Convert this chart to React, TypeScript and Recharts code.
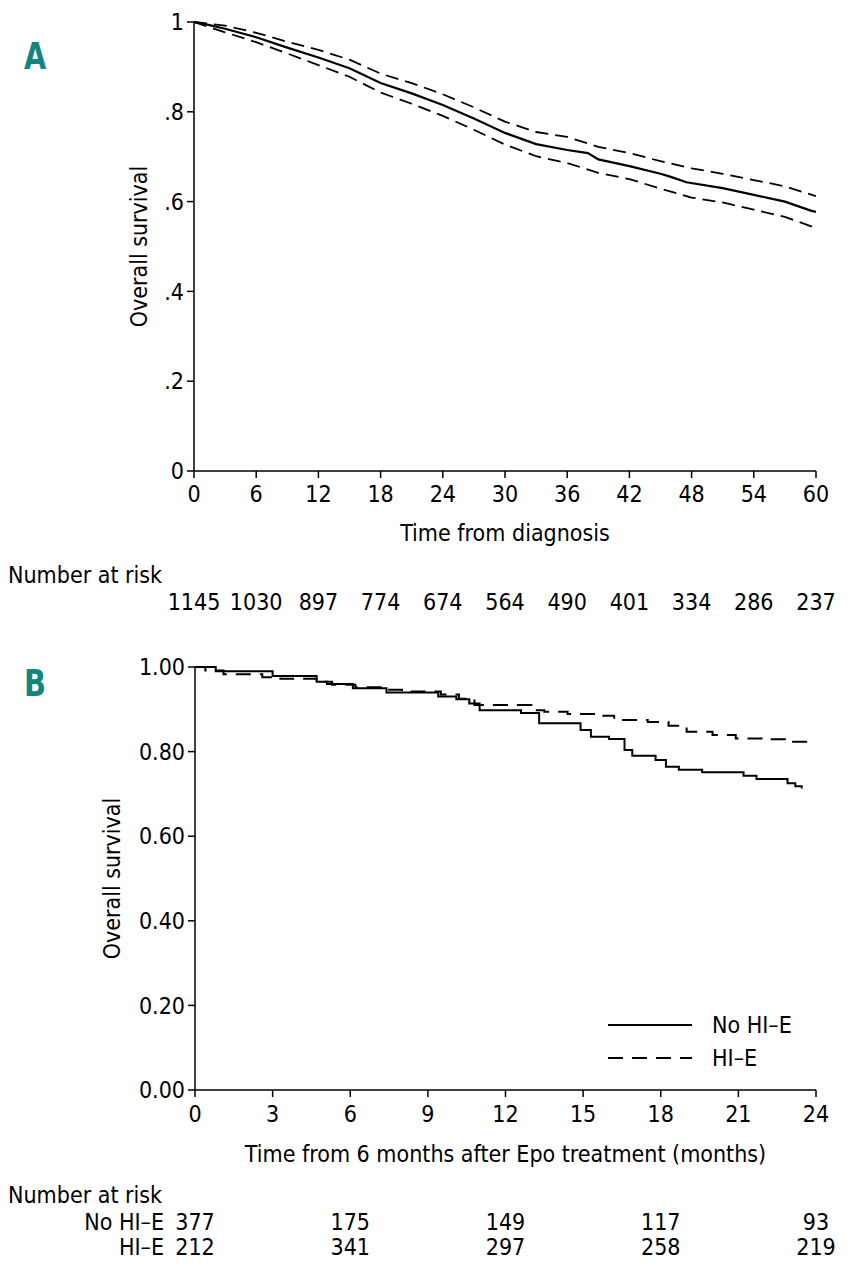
import React from 'react';
import { LineChart, Line, XAxis, YAxis } from 'recharts';

const FONT = '"Liberation Sans Narrow", "DejaVu Sans Condensed", "Arial Narrow", sans-serif';
const TEAL = '#14847f';
const FS = 23;

// Panel A: overall survival from diagnosis (months)
const monthsA = [0, 1.5, 3, 6, 9, 12, 15, 18, 21, 24, 27, 30, 33, 36, 38, 39, 42, 45, 46, 47.5, 51, 54, 57, 59.5, 60];
const survivalA = [1.0, 0.993, 0.985, 0.966, 0.943, 0.921, 0.897, 0.864, 0.841, 0.815, 0.785, 0.753, 0.728, 0.715, 0.708, 0.694, 0.679, 0.662, 0.655, 0.643, 0.63, 0.615, 0.6, 0.58, 0.577];
const ciMonthsA = [0, 3, 6, 9, 12, 15, 18, 21, 24, 27, 30, 33, 36, 39, 42, 45, 48, 51, 54, 57, 60];
const upperA = [1.0, 0.992, 0.976, 0.956, 0.938, 0.916, 0.885, 0.864, 0.839, 0.81, 0.778, 0.755, 0.744, 0.722, 0.708, 0.69, 0.674, 0.662, 0.648, 0.634, 0.612];
const lowerA = [1.0, 0.977, 0.955, 0.93, 0.904, 0.878, 0.843, 0.818, 0.791, 0.76, 0.727, 0.701, 0.686, 0.664, 0.65, 0.629, 0.609, 0.598, 0.582, 0.566, 0.541];
const xTicksA = [0, 6, 12, 18, 24, 30, 36, 42, 48, 54, 60];
const riskA = [1145, 1030, 897, 774, 674, 564, 490, 401, 334, 286, 237];

// Panel B: survival from 6 months after Epo treatment, by erythroid response
const monthsNoHIE = [0, 0.8, 3.0, 4.7, 5.1, 6.1, 7.4, 9.4, 10.1, 10.6, 11.0, 12.6, 13.3, 14.9, 15.3, 16.0, 16.6, 16.9, 17.8, 18.2, 18.7, 19.6, 21.2, 21.7, 22.9, 23.2, 23.45];
const survNoHIE = [1.0, 0.99, 0.979, 0.965, 0.96, 0.95, 0.94, 0.93, 0.924, 0.914, 0.898, 0.891, 0.867, 0.851, 0.835, 0.83, 0.804, 0.79, 0.78, 0.764, 0.757, 0.751, 0.743, 0.735, 0.725, 0.718, 0.713];
const monthsHIE = [0, 0.4, 1.1, 2.6, 3.3, 4.7, 5.3, 6.2, 7.4, 8.0, 9.5, 10.2, 10.8, 13.0, 13.5, 14.4, 15.5, 16.2, 17.5, 18.3, 19.0, 20.0, 20.9, 22.0, 22.8, 23.96];
const survHIE = [1.0, 0.992, 0.983, 0.976, 0.972, 0.965, 0.958, 0.952, 0.946, 0.942, 0.935, 0.925, 0.91, 0.898, 0.894, 0.889, 0.885, 0.875, 0.87, 0.861, 0.847, 0.839, 0.831, 0.829, 0.823, 0.823];
const xTicksB = [0, 3, 6, 9, 12, 15, 18, 21, 24];
const riskTimesB = [0, 6, 12, 18, 24];
const riskNoHIE = [377, 175, 149, 117, 93];
const riskHIE = [212, 341, 297, 258, 219];

const yTicks = [0, 0.2, 0.4, 0.6, 0.8, 1];

const toRows = (xs: number[], ys: number[]) => xs.map((t, i) => ({ t, s: ys[i] }));

const axisProps = { stroke: '#000', strokeWidth: 1.5 };

function TickA({ x, y, payload }: any) {
  const i = xTicksA.indexOf(payload.value);
  return (
    <g>
      <text x={x} y={y + 24} textAnchor="middle" fill="#000" fontSize={FS}>{payload.value}</text>
      {i >= 0 && <text x={x} y={y + 132} textAnchor="middle" fill="#000" fontSize={FS}>{riskA[i]}</text>}
    </g>
  );
}

function TickB({ x, y, payload }: any) {
  const i = riskTimesB.indexOf(payload.value);
  return (
    <g>
      <text x={x} y={y + 25} textAnchor="middle" fill="#000" fontSize={FS}>{payload.value}</text>
      {i >= 0 && <text x={x} y={y + 133} textAnchor="middle" fill="#000" fontSize={FS}>{riskNoHIE[i]}</text>}
      {i >= 0 && <text x={x} y={y + 158} textAnchor="middle" fill="#000" fontSize={FS}>{riskHIE[i]}</text>}
    </g>
  );
}

function YTick({ x, y, payload, fmt }: any) {
  return (
    <text x={x} y={y} dy="0.36em" textAnchor="end" fill="#000" fontSize={FS}>{fmt(payload.value)}</text>
  );
}

const fmtA = (v: number) => (v === 0 ? '0' : v === 1 ? '1' : '.' + Math.round(v * 10));
const fmtB = (v: number) => v.toFixed(2);

function yLabel(offset: number) {
  return ({ viewBox }: any) => {
    const cx = viewBox.x + viewBox.width - offset;
    const cy = viewBox.y + viewBox.height / 2;
    return (
      <text x={cx} y={cy} transform={`rotate(-90 ${cx} ${cy})`} textAnchor="middle" dominantBaseline="central" fill="#000" fontSize={FS}>
        Overall survival
      </text>
    );
  };
}

function xLabelA({ viewBox }: any) {
  return (
    <g>
      <text x={viewBox.x + viewBox.width / 2} y={viewBox.y + 70} textAnchor="middle" fill="#000" fontSize={FS}>Time from diagnosis</text>
      <text x={8} y={viewBox.y + 112} fill="#000" fontSize={FS}>Number at risk</text>
    </g>
  );
}

function xLabelB({ viewBox }: any) {
  return (
    <g>
      <text x={viewBox.x + viewBox.width / 2} y={viewBox.y + 72} textAnchor="middle" fill="#000" fontSize={FS}>
        Time from 6 months after Epo treatment (months)
      </text>
      <text x={8} y={viewBox.y + 113} fill="#000" fontSize={FS}>Number at risk</text>
      <text x={164} y={viewBox.y + 140} textAnchor="end" fill="#000" fontSize={FS}>No HI–E</text>
      <text x={164} y={viewBox.y + 165} textAnchor="end" fill="#000" fontSize={FS}>HI–E</text>
    </g>
  );
}

function LegendB() {
  return (
    <svg width={245} height={64} style={{ position: 'absolute', left: 600, top: 1013, fontFamily: FONT, overflow: 'visible' }}>
      <line x1={8} y1={12} x2={92} y2={12} stroke="#000" strokeWidth={2} />
      <text x={112} y={12} dy="0.36em" fontSize={FS} fill="#000">No HI–E</text>
      <line x1={8} y1={45} x2={92} y2={45} stroke="#000" strokeWidth={2} strokeDasharray="15 9" />
      <text x={112} y={45} dy="0.36em" fontSize={FS} fill="#000">HI–E</text>
    </svg>
  );
}

const panelLetter = (top: number): React.CSSProperties => ({
  position: 'absolute',
  left: 24,
  top,
  color: TEAL,
  fontWeight: 'bold',
  fontSize: 32,
  lineHeight: 1,
  fontFamily: FONT,
  transform: 'scaleY(1.15)',
  transformOrigin: 'top left',
});

export default function App() {
  return (
    <div style={{ position: 'absolute', left: 0, top: 0, width: 852, height: 1280, background: '#fff', fontFamily: FONT }}>
      <div style={panelLetter(38)}>A</div>
      <div style={panelLetter(665)}>B</div>

      <div style={{ position: 'absolute', left: 0, top: 0 }}>
        <LineChart width={852} height={630} margin={{ top: 22, right: 36, left: 0, bottom: 0 }}>
          <XAxis
            dataKey="t"
            type="number"
            domain={[0, 60]}
            ticks={xTicksA}
            height={159}
            tickSize={7}
            tickMargin={0}
            axisLine={axisProps}
            tickLine={axisProps}
            tick={<TickA />}
            label={xLabelA}
            allowDataOverflow
          />
          <YAxis
            type="number"
            domain={[0, 1]}
            ticks={yTicks}
            width={194}
            tickSize={7}
            tickMargin={3}
            axisLine={axisProps}
            tickLine={axisProps}
            tick={<YTick fmt={fmtA} />}
            label={yLabel(55)}
          />
          <Line data={toRows(ciMonthsA, upperA)} dataKey="s" type="linear" stroke="#000" strokeWidth={1.8} strokeDasharray="13 7" dot={false} isAnimationActive={false} />
          <Line data={toRows(ciMonthsA, lowerA)} dataKey="s" type="linear" stroke="#000" strokeWidth={1.8} strokeDasharray="13 7" dot={false} isAnimationActive={false} />
          <Line data={toRows(monthsA, survivalA)} dataKey="s" type="linear" stroke="#000" strokeWidth={2.2} dot={false} isAnimationActive={false} />
        </LineChart>
      </div>

      <div style={{ position: 'absolute', left: 0, top: 640 }}>
        <LineChart width={852} height={640} margin={{ top: 27, right: 36, left: 0, bottom: 0 }}>
          <XAxis
            dataKey="t"
            type="number"
            domain={[0, 24]}
            ticks={xTicksB}
            height={190}
            tickSize={7}
            tickMargin={0}
            axisLine={axisProps}
            tickLine={axisProps}
            tick={<TickB />}
            label={xLabelB}
            allowDataOverflow
          />
          <YAxis
            type="number"
            domain={[0, 1]}
            ticks={yTicks}
            width={195}
            tickSize={7}
            tickMargin={3}
            axisLine={axisProps}
            tickLine={axisProps}
            tick={<YTick fmt={fmtB} />}
            label={yLabel(83)}
          />
          <Line data={toRows(monthsNoHIE, survNoHIE)} dataKey="s" name="No HI–E" type="stepAfter" stroke="#000" strokeWidth={2} dot={false} isAnimationActive={false} />
          <Line data={toRows(monthsHIE, survHIE)} dataKey="s" name="HI–E" type="stepAfter" stroke="#000" strokeWidth={2} strokeDasharray="15 9" dot={false} isAnimationActive={false} />
        </LineChart>
      </div>

      <LegendB />
    </div>
  );
}
